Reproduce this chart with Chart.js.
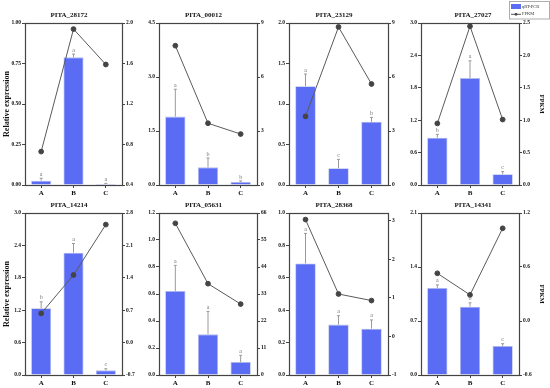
<!DOCTYPE html>
<html>
<head>
<meta charset="utf-8">
<script src="https://cdn.jsdelivr.net/npm/chart.js@4.4.0/dist/chart.umd.min.js"></script>
<style>
html, body { margin: 0; padding: 0; background: #fff; }
#wrap { position: relative; width: 550px; height: 388px; overflow: hidden; }
#wrap canvas { position: absolute; }
</style>
</head>
<body>
<div id="wrap"></div>
<script>
var groups = ['A', 'B', 'C'];
var genes = ['PITA_28172', 'PITA_00012', 'PITA_23129', 'PITA_27027',
             'PITA_14214', 'PITA_05631', 'PITA_28368', 'PITA_14341'];

// qRT-PCR relative expression (bars) and its error
var qpcrMean = [
    [0.027, 0.788, 0.006],
    [1.90, 0.49, 0.083],
    [1.22, 0.206, 0.78],
    [0.877, 1.98, 0.198],
    [1.235, 2.265, 0.086],
    [0.622, 0.301, 0.096],
    [0.689, 0.311, 0.286],
    [1.128, 0.886, 0.376]
];
var qpcrErr = [
    [0.015, 0.02, 0.004],
    [0.76, 0.26, 0.03],
    [0.15, 0.11, 0.055],
    [0.06, 0.32, 0.05],
    [0.12, 0.17, 0.03],
    [0.19, 0.17, 0.05],
    [0.185, 0.055, 0.054],
    [0.04, 0.05, 0.03]
];
var sigLetters = [
    ['a', 'a', 'a'],
    ['a', 'b', 'b'],
    ['a', 'c', 'b'],
    ['b', 'a', 'c'],
    ['b', 'a', 'c'],
    ['a', 'a', 'a'],
    ['a', 'a', 'a'],
    ['a', 'b', 'c']
];

// FPKM (line, right axis)
var fpkm = [
    [0.73, 1.94, 1.59],
    [7.74, 3.43, 2.83],
    [3.81, 8.78, 5.61],
    [0.95, 2.45, 1.01],
    [0.63, 1.46, 2.55],
    [61.8, 37.2, 28.9],
    [3.03, 1.10, 0.93],
    [0.53, 0.29, 1.03]
];

// tick labels
var leftTicks = [
    ['0.00', '0.25', '0.50', '0.75', '1.00'],
    ['0.0', '1.5', '3.0', '4.5'],
    ['0.0', '0.5', '1.0', '1.5', '2.0'],
    ['0.0', '0.6', '1.2', '1.8', '2.4', '3.0'],
    ['0.0', '0.6', '1.2', '1.8', '2.4', '3.0'],
    ['0.0', '0.2', '0.4', '0.6', '0.8', '1.0', '1.2'],
    ['0.0', '0.2', '0.4', '0.6', '0.8', '1.0'],
    ['0.0', '0.7', '1.4', '2.1']
];
var rightTicks = [
    ['0.4', '0.8', '1.2', '1.6', '2.0'],
    ['0', '3', '6', '9'],
    ['0', '3', '6', '9'],
    ['0.0', '0.5', '1.0', '1.5', '2.0', '2.5'],
    ['-0.7', '0.0', '0.7', '1.4', '2.1', '2.8'],
    ['0', '11', '22', '33', '44', '55', '66'],
    ['-1', '0', '1', '2', '3'],
    ['-0.6', '0.0', '0.6', '1.2']
];
var rightMax = [2.0, 9, 9, 2.5, 2.8, 66, 3.2, 1.2];

var cols = [[25, 122], [159, 257], [289, 388], [421, 519]];
var rows = [[23, 185], [213, 375]];
var serif = '"Liberation Serif", "Times New Roman", serif';
var barBlue = '#5a6cf4';

var panelPlugin = {
    id: 'panel',
    afterDatasetsDraw: function (chart, args, opts) {
        var p = opts.panel;
        var ctx = chart.ctx;
        var ys = chart.scales.y;
        var meta = chart.getDatasetMeta(0);
        ctx.save();
        meta.data.forEach(function (bar, i) {
            var top = ys.getPixelForValue(qpcrMean[p][i] + qpcrErr[p][i]);
            ctx.strokeStyle = '#9a9a9a';
            ctx.lineWidth = 1;
            ctx.beginPath();
            ctx.moveTo(bar.x, bar.y);
            ctx.lineTo(bar.x, top);
            ctx.moveTo(bar.x - 1.5, top);
            ctx.lineTo(bar.x + 1.5, top);
            ctx.stroke();
            ctx.fillStyle = '#777';
            ctx.font = '6px ' + serif;
            ctx.textAlign = 'center';
            ctx.textBaseline = 'bottom';
            ctx.fillText(sigLetters[p][i], bar.x, top - 1);
        });
        ctx.restore();
    },
    afterDraw: function (chart, args, opts) {
        var a = chart.chartArea;
        var ctx = chart.ctx;
        ctx.save();
        ctx.strokeStyle = '#444';
        ctx.lineWidth = 1.2;
        ctx.strokeRect(Math.round(a.left) + 0.5, Math.round(a.top) + 0.5,
                       Math.round(a.right - a.left), Math.round(a.bottom - a.top));
        if (opts.legend) {
            var ds = chart.data.datasets;
            ctx.strokeStyle = '#999';
            ctx.lineWidth = 0.8;
            ctx.strokeRect(113.5, 1.5, 40, 17.5);
            ctx.fillStyle = barBlue;
            ctx.fillRect(115, 4, 10, 5);
            ctx.strokeStyle = '#555';
            ctx.lineWidth = 1;
            ctx.beginPath();
            ctx.moveTo(115, 14.3);
            ctx.lineTo(125, 14.3);
            ctx.stroke();
            ctx.fillStyle = '#444';
            ctx.beginPath();
            ctx.arc(120, 14.3, 1.4, 0, Math.PI * 2);
            ctx.fill();
            ctx.fillStyle = '#333';
            ctx.font = '4.5px ' + serif;
            ctx.textAlign = 'left';
            ctx.textBaseline = 'middle';
            ctx.fillText(ds[0].label, 126, 6.7);
            ctx.fillText(ds[1].label, 126, 14.3);
        }
        ctx.restore();
    }
};

function makePanel(p) {
    var col = p % 4, row = Math.floor(p / 4);
    var wr = col === 3 ? 550 - cols[3][1] : 16;
    var left = cols[col][0] - 25;
    var width = cols[col][1] - cols[col][0] + 25 + wr;
    var top = rows[row][0] - 23;
    var height = rows[row][1] - top + 13;

    var canvas = document.createElement('canvas');
    canvas.width = width;
    canvas.height = height;
    canvas.style.left = left + 'px';
    canvas.style.top = top + 'px';
    canvas.style.width = width + 'px';
    canvas.style.height = height + 'px';
    document.getElementById('wrap').appendChild(canvas);

    var lt = leftTicks[p], rt = rightTicks[p];
    var tickFont = { family: serif, size: 5.5, weight: 'bold' };

    new Chart(canvas.getContext('2d'), {
        type: 'bar',
        data: {
            labels: groups,
            datasets: [{
                type: 'bar',
                label: 'qRT-PCR',
                data: qpcrMean[p],
                yAxisID: 'y',
                backgroundColor: barBlue,
                borderColor: '#b5bbe6',
                borderWidth: 0.8,
                barPercentage: 0.62,
                categoryPercentage: 1,
                order: 1
            }, {
                type: 'line',
                label: 'FPKM',
                data: fpkm[p],
                yAxisID: 'y1',
                borderColor: '#5a5a5a',
                borderWidth: 1,
                pointRadius: 2.4,
                pointBackgroundColor: '#444',
                pointBorderColor: '#444',
                tension: 0,
                order: 0
            }]
        },
        options: {
            responsive: false,
            animation: false,
            devicePixelRatio: 1,
            layout: { padding: 0 },
            plugins: {
                legend: { display: false },
                tooltip: { enabled: false },
                title: {
                    display: true,
                    text: genes[p],
                    color: '#111',
                    font: { family: serif, size: 7, weight: 'bold' },
                    padding: { top: 11, bottom: 3.6 }
                },
                panel: { panel: p, legend: p === 3 }
            },
            scales: {
                x: {
                    offset: true,
                    grid: { drawOnChartArea: false, offset: false, tickLength: 3, color: '#444' },
                    border: { display: false },
                    ticks: { color: '#111', font: { family: serif, size: 7, weight: 'bold' }, padding: 1 },
                    afterFit: function (s) { s.height = 13; }
                },
                y: {
                    position: 'left',
                    min: parseFloat(lt[0]),
                    max: parseFloat(lt[lt.length - 1]),
                    afterBuildTicks: function (s) {
                        s.ticks = lt.map(function (v) { return { value: parseFloat(v) }; });
                    },
                    ticks: {
                        color: '#111', font: tickFont, padding: 1,
                        callback: function (v, i) { return lt[i]; }
                    },
                    grid: { drawOnChartArea: false, tickLength: 3, color: '#444' },
                    border: { display: false },
                    title: {
                        display: col === 0,
                        text: 'Relative expression',
                        color: '#111',
                        font: { family: serif, size: 8, weight: 'bold' },
                        padding: { top: 2, bottom: 0 }
                    },
                    afterFit: function (s) { s.width = 25; }
                },
                y1: {
                    position: 'right',
                    min: parseFloat(rt[0]),
                    max: rightMax[p],
                    afterBuildTicks: function (s) {
                        s.ticks = rt.map(function (v) { return { value: parseFloat(v) }; });
                    },
                    ticks: {
                        color: '#111', font: tickFont, padding: 1,
                        callback: function (v, i) { return rt[i]; }
                    },
                    grid: { drawOnChartArea: false, tickLength: 3, color: '#444' },
                    border: { display: false },
                    title: {
                        display: col === 3,
                        text: 'FPKM',
                        color: '#111',
                        font: { family: serif, size: 6.5, weight: 'bold' },
                        padding: { top: 4.6, bottom: 0 }
                    },
                    afterFit: function (s) { s.width = wr; }
                }
            }
        },
        plugins: [panelPlugin]
    });
}

for (var p = 0; p < 8; p++) makePanel(p);
</script>
</body>
</html>
